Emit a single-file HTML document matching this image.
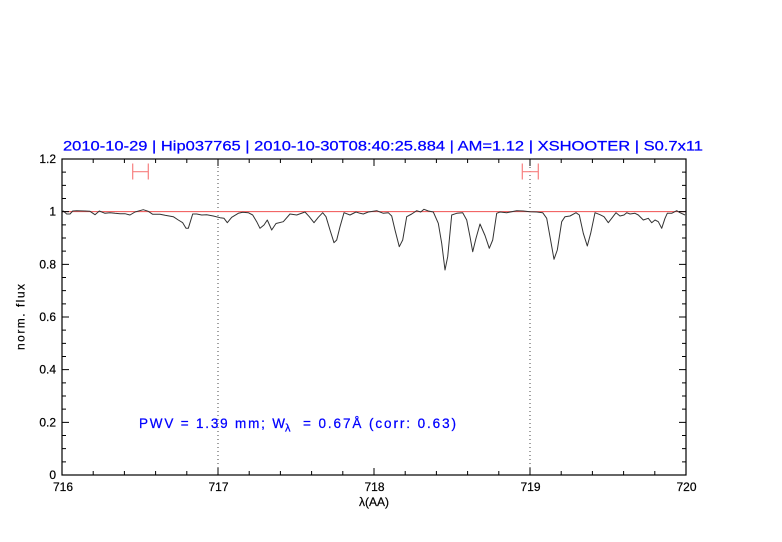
<!DOCTYPE html>
<html><head><meta charset="utf-8"><style>
html,body{margin:0;padding:0;background:#fff;}
svg{display:block;}
text{font-family:"Liberation Sans",sans-serif;}
</style></head><body>
<svg width="782" height="542" viewBox="0 0 782 542" xmlns="http://www.w3.org/2000/svg">
<rect x="0" y="0" width="782" height="542" fill="#fff"/>
<!-- title -->
<text x="63" y="150.5" font-size="14" fill="#0000ff" stroke="#0000ff" stroke-width="0.25" textLength="640" lengthAdjust="spacingAndGlyphs">2010-10-29 | Hip037765 | 2010-10-30T08:40:25.884 | AM=1.12 | XSHOOTER | S0.7x11</text>
<!-- dotted verticals -->
<line x1="218" y1="159" x2="218" y2="475" stroke="#444" stroke-width="1" stroke-dasharray="1,3"/>
<line x1="530" y1="159" x2="530" y2="475" stroke="#444" stroke-width="1" stroke-dasharray="1,3"/>
<!-- unity line -->
<line x1="62" y1="211.67" x2="686" y2="211.67" stroke="#f05050" stroke-width="1"/>
<!-- error bars -->
<g stroke="#f78080" stroke-width="1.2" fill="none">
<path d="M132.7 171.7 H148.3 M132.7 163.5 V179.5 M148.3 163.5 V179.5"/>
<path d="M522.3 171.7 H538.3 M522.3 163.5 V179.5 M538.3 163.5 V179.5"/>
</g>
<!-- spectrum -->
<polyline fill="none" stroke="#333" stroke-width="1" stroke-linejoin="round" points="62.5,211.5 63.3,211 66.7,214 70,214 72.7,211 76.7,210.7 85,211 90,211.3 95,214.7 99.3,211 105,213.3 110,212.7 115,213.3 120,213.7 125,213.7 130,215 135,212 143.3,209.7 148.3,211.3 152.7,214.3 160,214.3 165,215.3 173.3,216.7 178.3,220 182.7,222.7 186,228.3 188.3,228.3 192.7,214 196.7,214 201.7,215 206.7,214.7 213.3,216 220,217.7 224,218.3 227.3,222.7 231.7,217.3 238.3,213.3 242.7,212.3 248.3,212.7 252.7,215 256.7,221.7 260,228.3 264,225 267.3,220 271.7,230 276,223.5 283.3,221.7 290,214 296.7,215 305,212 309.3,216.7 314,222.7 318.3,217.3 322.7,212.7 326,216.7 330,230 334,242.7 336.7,240 340,226.7 344,212.7 350,215 356,212 360,213.3 363.3,214 368.3,212 376.7,210.7 383.3,213.3 388.3,212.7 391.7,216 395,230 399.3,246.7 402.7,240 406.7,216.7 411.7,214 416.7,210.7 420.7,212 424,209.3 428.3,211 433.3,212 438.3,223.3 441.7,243.3 445,270 447.7,256.7 451.7,215 456.7,213.3 462.7,212.7 466.7,220 470,236.7 472.7,251.7 476,238.3 480,224 485,235.5 489.3,248.3 492.7,240 496.7,213.3 500,212 506.7,212.7 516.7,210.7 523.3,211 530,211.7 536.7,212 542.7,212.7 546.7,218.3 550,236.7 554,259.3 557.3,250 561.7,221.7 565,216.7 570,216 576,212.7 579.3,215 583.3,233.3 587.3,246 590.7,233.3 595,212.7 600,214.7 604,216.7 608.3,222.7 611.7,218.3 616,212.7 620,216 624,215 626.7,212.7 630,214 635,213.3 638.3,215 643.3,220 648.3,218.3 651.7,222.7 655,220 658.3,221.7 661.7,228.3 665,218.3 667.3,213.3 671.7,213.3 676.7,210.7 680,212.7 685,215"/>
<!-- frame -->
<rect x="62" y="159" width="624" height="316" fill="none" stroke="#000" stroke-width="1.2"/>
<!-- ticks -->
<g stroke="#000" stroke-width="1" fill="none">
<path d="M62 475v-7M93.2 475v-4M124.4 475v-4M155.6 475v-4M186.8 475v-4M218 475v-7M249.2 475v-4M280.4 475v-4M311.6 475v-4M342.8 475v-4M374 475v-7M405.2 475v-4M436.4 475v-4M467.6 475v-4M498.8 475v-4M530 475v-7M561.2 475v-4M592.4 475v-4M623.6 475v-4M654.8 475v-4M686 475v-7"/>
<path d="M62 159v7M93.2 159v4M124.4 159v4M155.6 159v4M186.8 159v4M218 159v7M249.2 159v4M280.4 159v4M311.6 159v4M342.8 159v4M374 159v7M405.2 159v4M436.4 159v4M467.6 159v4M498.8 159v4M530 159v7M561.2 159v4M592.4 159v4M623.6 159v4M654.8 159v4M686 159v7"/>
<path d="M62 475h7M62 461.83h4M62 448.67h4M62 435.5h4M62 422.33h7M62 409.17h4M62 396h4M62 382.83h4M62 369.67h7M62 356.5h4M62 343.33h4M62 330.17h4M62 317h7M62 303.83h4M62 290.67h4M62 277.5h4M62 264.33h7M62 251.17h4M62 238h4M62 224.83h4M62 211.67h7M62 198.5h4M62 185.33h4M62 172.17h4M62 159h7"/>
<path d="M686 475h-7M686 461.83h-4M686 448.67h-4M686 435.5h-4M686 422.33h-7M686 409.17h-4M686 396h-4M686 382.83h-4M686 369.67h-7M686 356.5h-4M686 343.33h-4M686 330.17h-4M686 317h-7M686 303.83h-4M686 290.67h-4M686 277.5h-4M686 264.33h-7M686 251.17h-4M686 238h-4M686 224.83h-4M686 211.67h-7M686 198.5h-4M686 185.33h-4M686 172.17h-4M686 159h-7"/>
</g>
<!-- y tick labels -->
<g font-size="12" fill="#000" stroke="#000" stroke-width="0.2" text-anchor="end">
<text x="56" y="479">0</text>
<text x="56" y="426.3">0.2</text>
<text x="56" y="373.7">0.4</text>
<text x="56" y="321">0.6</text>
<text x="56" y="268.3">0.8</text>
<text x="56" y="215.7">1</text>
<text x="56" y="163">1.2</text>
</g>
<!-- x tick labels -->
<g font-size="12" fill="#000" stroke="#000" stroke-width="0.2" text-anchor="middle">
<text x="63" y="491">716</text>
<text x="218.5" y="491">717</text>
<text x="374.5" y="491">718</text>
<text x="530.5" y="491">719</text>
<text x="686.5" y="491">720</text>
</g>
<!-- axis titles -->
<text x="374" y="506" font-size="12" fill="#000" stroke="#000" stroke-width="0.2" text-anchor="middle">λ(AA)</text>
<text transform="translate(24.5,317) rotate(-90)" font-size="12" fill="#000" stroke="#000" stroke-width="0.2" text-anchor="middle" textLength="66" lengthAdjust="spacing">norm. flux</text>
<!-- PWV annotation -->
<g fill="#0000ff" stroke="#0000ff" stroke-width="0.25">
<text x="139" y="428" font-size="13.5" textLength="146" lengthAdjust="spacing">PWV = 1.39 mm; W</text>
<text x="285" y="431.5" font-size="11">λ</text>
<text x="303" y="428" font-size="13.5" textLength="153" lengthAdjust="spacing">= 0.67Å (corr: 0.63)</text>
</g>
</svg>
</body></html>
